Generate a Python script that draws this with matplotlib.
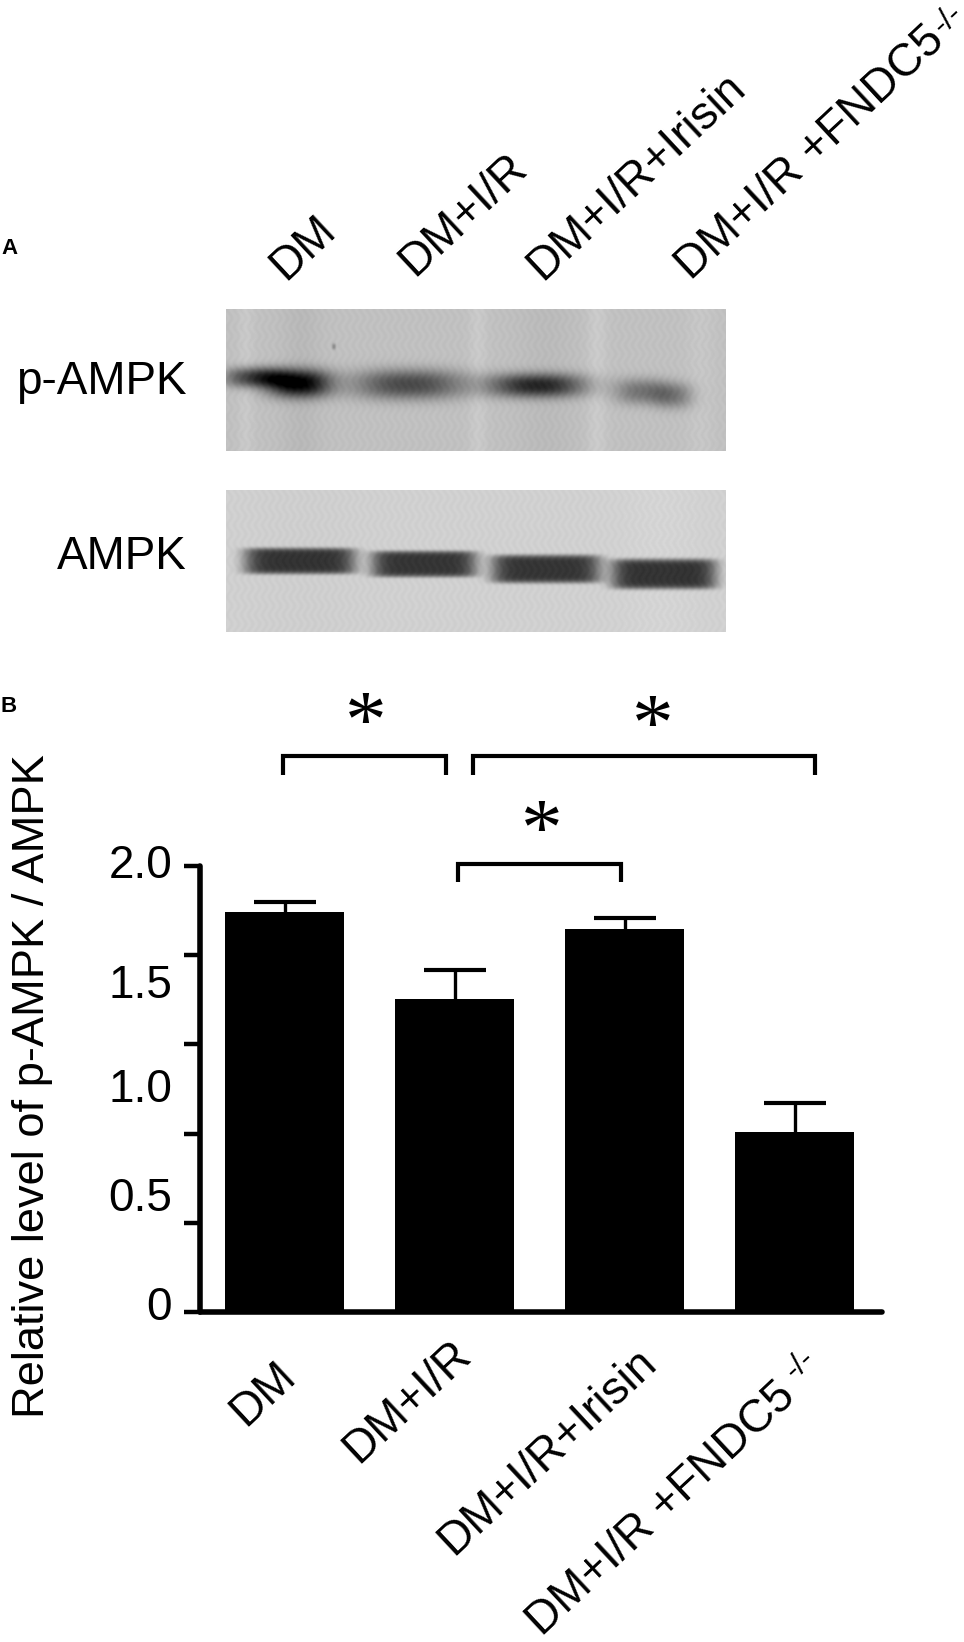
import numpy as np
import matplotlib
matplotlib.use("Agg")
import matplotlib.pyplot as plt

plt.rcParams['font.family'] = ['Liberation Sans', 'DejaVu Sans']

W, H = 964, 1642

# ---- chart data
groups = ['DM', 'DM+I/R', 'DM+I/R+Irisin', 'DM+I/R +FNDC5']
means = [1.795, 1.405, 1.717, 0.806]
errors = [0.043, 0.130, 0.049, 0.132]
tick_values = [0, 0.4, 0.8, 1.2, 1.6, 2.0]
ylabel = 'Relative level of p-AMPK / AMPK'
superscript = '-/-'

# (value position of the printed number, text)
printed_labels = [(2.0, '2.0'), (1.46, '1.5'), (0.995, '1.0'), (0.505, '0.5'), (0.02, '0')]

# significance brackets: x0, x1 (bar units), top y, leg-end y
brackets = [(-0.014, 0.947, 2.495, 2.41),
            (1.106, 3.12, 2.495, 2.41),
            (1.015, 1.975, 2.01, 1.93)]
stars = [(0.478, 2.62), (2.166, 2.61), (1.513, 2.14)]

# ---- blot data (pixel lobes in the reference: cx, cy, half-width, half-height, darkness)
blot_boxes = [(225.5, 309, 725.5, 451.5), (225.5, 489.5, 725.5, 632)]
blot_base = [192, 208]
top_lobes = [(255, 378, 30, 10, 135), (298, 384, 32, 14, 185), (333, 347, 2, 3, 50),
             (408, 385, 56, 15, 118), (536, 386, 48, 12, 150),
             (640, 392, 26, 13, 75), (672, 396, 20, 13, 70)]
low_lobes = [(299, 561, 56, 13, 155), (423, 564, 53, 13, 155),
             (545, 569, 55, 14, 155), (663, 574, 53, 15, 160)]
top_streaks = [(245, 8, 8), (300, 20, -8), (477, 9, 9), (596, 10, 10),
               (545, 30, -6), (700, 14, 6)]
low_streaks = [(660, 40, 4), (300, 60, -2)]

top_labels = [(273, 268), (396, 265), (518, 268), (660, 268)]
bottom_labels = [(234, 1363), (342, 1399), (433, 1487), (518, 1564)]
label_angle = 43

fig = plt.figure(figsize=(W / 100, H / 100), dpi=100, facecolor='white')


def px_axes(x0, y0, x1, y1):
    return fig.add_axes([x0 / W, 1 - y1 / H, (x1 - x0) / W, (y1 - y0) / H])


def blot(box, base, lobes, streaks, power_x, power_y):
    x0, y0, x1, y1 = box
    xs = np.arange(x0, x1)
    ys = np.arange(y0, y1)
    X, Y = np.meshgrid(xs, ys)
    img = np.full(X.shape, float(base))
    img += 2.5 * np.sin(0.9 * X + 2.0 * np.sin(0.35 * Y))
    for cx, w, amp in streaks:
        img += amp * np.exp(-((X - cx) / w) ** 2)
    for cx, cy, hw, hh, d in lobes:
        img -= d * np.exp(-np.abs((X - cx) / hw) ** power_x - np.abs((Y - cy) / hh) ** power_y)
    ax = px_axes(x0, y0, x1, y1)
    ax.imshow(np.clip(img, 0, 255), cmap='gray', vmin=0, vmax=255, aspect='auto',
              interpolation='bilinear')
    ax.axis('off')


blot(blot_boxes[0], blot_base[0], top_lobes, top_streaks, 2.4, 2.4)
blot(blot_boxes[1], blot_base[1], low_lobes, low_streaks, 7, 7)

# ---- bar chart
ax = px_axes(200, 866, 882, 1312)
ax.patch.set_alpha(0)
xpos = np.arange(len(groups))
ax.bar(xpos, means, width=0.70, color='black', zorder=2)
tops = [m + e for m, e in zip(means, errors)]
ax.vlines(xpos, means, tops, color='black', lw=2.4, zorder=1)
ax.plot(xpos, tops, ls='none', marker='_', ms=44, mew=3, color='black', zorder=1)
ax.set_xlim(-0.5, 3.512)
ax.set_ylim(0, 2.0)
for s in ('top', 'right'):
    ax.spines[s].set_visible(False)
for s in ('left', 'bottom'):
    ax.spines[s].set_linewidth(4)
    ax.spines[s].set_capstyle('round')
ax.set_xticks([])
ax.set_yticks(tick_values)
ax.set_yticklabels([])
ax.tick_params(axis='y', length=11.5, width=3.2, color='black')

to_px = ax.get_yaxis_transform()
for v, s in printed_labels:
    ax.annotate(s, xy=(0, v), xycoords=to_px, xytext=(-20, 0), textcoords='offset points',
                ha='right', va='center', fontsize=33, color='black')

for x0, x1, top, leg in brackets:
    ax.plot([x0, x0, x1, x1], [leg, top, top, leg], color='black', lw=3,
            solid_joinstyle='miter', solid_capstyle='butt', clip_on=False)
for x, y in stars:
    ax.text(x, y, '*', fontsize=60, ha='center', va='center', color='black',
            fontfamily=['Liberation Serif'], clip_on=False)

# ---- text in reference pixel coordinates
ov = fig.add_axes([0, 0, 1, 1], facecolor='none')
ov.set_xlim(0, W)
ov.set_ylim(H, 0)
ov.axis('off')
SC = 964 / 921
theta = np.radians(label_angle)


def slanted(x, y, s, gap, raise_px, size=33):
    ov.text(x * SC, y * SC, s, fontsize=size, rotation=label_angle, rotation_mode='anchor',
            ha='left', va='baseline', color='black')
    if s.endswith('FNDC5'):
        r = fig.canvas.get_renderer()
        tt = ov.text(0, 0, s, fontsize=size)
        wid = tt.get_window_extent(r).width
        tt.remove()
        d = wid + gap
        dx, dy = d * np.cos(theta), d * np.sin(theta)
        ux, uy = -np.sin(theta) * raise_px, np.cos(theta) * raise_px
        ov.text(x * SC + dx + ux, y * SC - dy - uy, superscript, fontsize=size * 0.68,
                rotation=label_angle, rotation_mode='anchor', ha='left', va='baseline',
                color='black')


for (x, y), s in zip(top_labels, groups):
    slanted(x, y, s, 3, 8)
for (x, y), s in zip(bottom_labels, groups):
    slanted(x, y, s, 11, 16)

ov.text(178 * SC, 365 * SC, 'p-AMPK', fontsize=33, ha='right', va='center', color='black')
ov.text(178 * SC, 532 * SC, 'AMPK', fontsize=33, ha='right', va='center', color='black')
ov.text(1, 243 * SC, 'A', fontsize=16, fontweight='bold', ha='left', va='baseline', color='black')
ov.text(1, 680 * SC, 'B', fontsize=16, fontweight='bold', ha='left', va='baseline', color='black')
ov.text(33, 1038 * SC, ylabel, fontsize=32.6, rotation=90, ha='center', va='center', color='black')

fig.savefig('out.png', dpi=100, facecolor='white')
